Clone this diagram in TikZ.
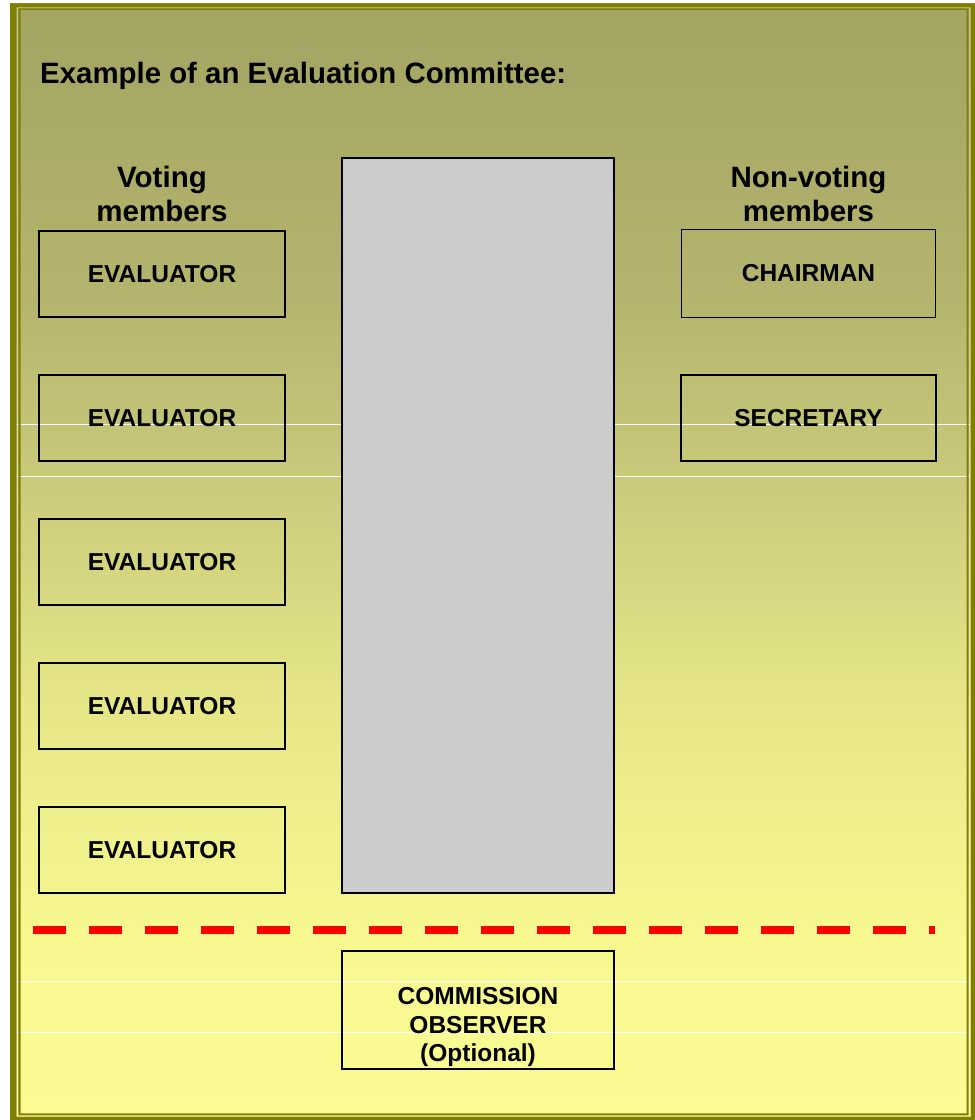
\documentclass[tikz,border=0pt]{standalone}
\usepackage{fontspec}
\setmainfont{Liberation Sans}
\definecolor{frameol}{HTML}{808000}
\definecolor{gA}{HTML}{A4A463}
\definecolor{gB}{HTML}{B4B46E}
\definecolor{gC}{HTML}{C6C679}
\definecolor{gD}{HTML}{E6E688}
\definecolor{gE}{HTML}{F8F890}
\definecolor{gF}{HTML}{FBFB94}
\definecolor{tablegray}{HTML}{CCCCCC}
\pgfdeclareverticalshading{bgshade}{100bp}{color(0bp)=(gF); color(25bp)=(gF); color(33.3bp)=(gE); color(43.7bp)=(gD); color(55.1bp)=(gC); color(61.9bp)=(gB); color(75bp)=(gA); color(100bp)=(gA)}
\begin{document}
\begin{tikzpicture}[x=1pt,y=1pt,
  boxlabel/.style={font=\fontsize{24.5}{28.5}\selectfont\bfseries},
  evalbox/.style={boxlabel, draw=black, line width=2pt, minimum width=246pt, minimum height=86pt, inner sep=0pt},
  headtext/.style={font=\fontsize{29.5}{34}\selectfont\bfseries, align=center, inner sep=0pt, anchor=base},
  gleam/.style={white, line width=1pt}]
\useasboundingbox (0,0) rectangle (975,1120);
\fill[white] (0,0) rectangle (975,1120);
% background gradient
\shade[shading=bgshade] (10,0) rectangle (975,1116.5);
% faint white stripes
\foreach \yy in {695,643,138,87} {\draw[gleam] (17,\yy) -- (970,\yy);}
% frame
\fill[frameol, even odd rule] (10,0) rectangle (975,1116.5) (16.7,3.3) rectangle (970.7,1112.7);
\fill[white, opacity=0.35, even odd rule] (16.7,3.3) rectangle (970.7,1112.7) (18.3,4.7) rectangle (968.7,1111.7);
\fill[frameol, even odd rule] (18.3,4.7) rectangle (968.7,1111.7) (20.7,6.7) rectangle (966.7,1110);
% title
\node[anchor=base west, inner sep=0pt, font=\fontsize{29.4}{34}\selectfont\bfseries] (title) at (40,1036) {Example of an Evaluation Committee:};
% headings
\node[headtext] (voting) at (162,898) {Voting\\members};
\node[headtext] (nonvoting) at (808.5,898) {Non-voting\\members};
% table
\node[draw=black, line width=2pt, fill=tablegray, minimum width=272pt, minimum height=735pt, inner sep=0pt] (table) at (478,594.5) {};
% evaluators
\node[evalbox] (e1) at (162,846) {EVALUATOR};
\node[evalbox] (e2) at (162,702) {EVALUATOR};
\node[evalbox] (e3) at (162,558) {EVALUATOR};
\node[evalbox] (e4) at (162,414) {EVALUATOR};
\node[evalbox] (e5) at (162,270) {EVALUATOR};
% non-voting
\node[boxlabel, draw=black, line width=1pt, minimum width=254pt, minimum height=88pt, inner sep=0pt] (chair) at (808.5,846.5) {CHAIRMAN};
\node[evalbox, minimum width=255pt] (secr) at (808.5,702) {SECRETARY};
% separator
\coordinate (dl) at (33,190);
\coordinate (dr) at (935,190);
\draw[red, line width=8pt, dash pattern=on 33pt off 23pt] (dl) -- (dr);
% observer
\node[draw=black, line width=2pt, minimum width=272pt, minimum height=118pt, inner sep=0pt] (obsbox) at (478,110) {};
\node[boxlabel, align=center, anchor=base, inner sep=0pt] (obs) at (478,58) {COMMISSION\\OBSERVER\\(Optional)};
\end{tikzpicture}
\end{document}
